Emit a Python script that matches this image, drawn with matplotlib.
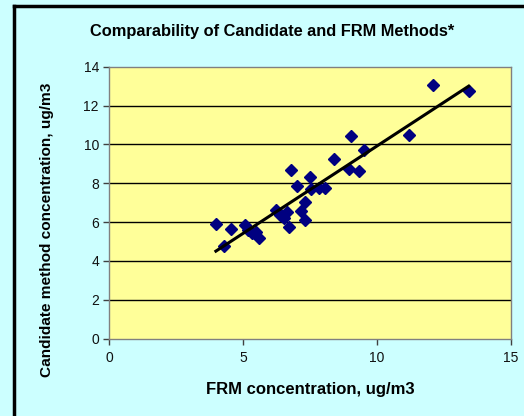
import numpy as np
import matplotlib
matplotlib.use("Agg")
import matplotlib.pyplot as plt
from matplotlib.lines import Line2D

# FRM vs candidate method, ug/m3
frm = [3.98, 4.28, 4.54, 5.08, 5.19, 5.33, 5.48, 5.60, 6.22, 6.37,
       6.52, 6.62, 6.72, 6.77, 7.00, 7.17, 7.32, 7.31, 7.48, 7.53,
       7.82, 8.04, 8.40, 8.94, 9.01, 9.34, 9.51, 11.19, 12.09, 13.42]
candidate = [5.90, 4.77, 5.64, 5.83, 5.59, 5.44, 5.51, 5.16, 6.62, 6.36,
             6.19, 6.50, 5.76, 8.68, 7.87, 6.55, 7.02, 6.09, 8.30, 7.69,
             7.75, 7.75, 9.26, 8.71, 10.43, 8.63, 9.69, 10.46, 13.07, 12.73]
x_ticks = [0, 5, 10, 15]
y_ticks = [0, 2, 4, 6, 8, 10, 12, 14]

plt.rcParams['font.family'] = ['Liberation Sans', 'DejaVu Sans']

fig = plt.figure(figsize=(5.24, 4.16), dpi=100, facecolor='#CCFFFF')
ax = fig.add_axes([0.2086, 0.1858, 0.7666, 0.6539])
ax.set_facecolor('#FFFF99')

for yv in y_ticks[1:-1]:
    ax.axhline(yv, color='black', lw=1.0, zorder=1)

ax.plot(frm, candidate, linestyle='none', marker='D', ms=6.5,
        color='#000080', zorder=3)

# linear trendline
k, b = np.polyfit(frm, candidate, 1)
xs = np.array([min(frm), max(frm)])
ax.plot(xs, k * xs + b, color='black', lw=2.2, zorder=4)

ax.set_xlim(0, 15)
ax.set_ylim(0, 14)
ax.set_xticks(x_ticks)
ax.set_yticks(y_ticks)
for s in ax.spines.values():
    s.set_color('#808080')
    s.set_linewidth(1.0)
ax.tick_params(direction='out', length=4, width=1, color='#404040',
               labelsize=10, labelcolor='#111111')
ax.tick_params(axis='x', pad=5)

ax.set_xlabel('FRM concentration, ug/m3', fontsize=12, fontweight='bold',
              labelpad=12)
ax.set_ylabel('Candidate method concentration, ug/m3', fontsize=11.1,
              fontweight='bold')
ax.yaxis.set_label_coords(-0.138, 0.40)
fig.text(0.519, 0.925, 'Comparability of Candidate and FRM Methods*',
         ha='center', va='center', fontsize=11.8, fontweight='bold')

# chart frame (left and top edges visible)
fig.add_artist(Line2D([13.5 / 524, 13.5 / 524], [0, 1 - 5.5 / 416],
                      transform=fig.transFigure, color='black', lw=2.5))
fig.add_artist(Line2D([13.5 / 524, 1], [1 - 5.5 / 416, 1 - 5.5 / 416],
                      transform=fig.transFigure, color='black', lw=2.5))

fig.savefig('out.png', dpi=100, facecolor=fig.get_facecolor())
